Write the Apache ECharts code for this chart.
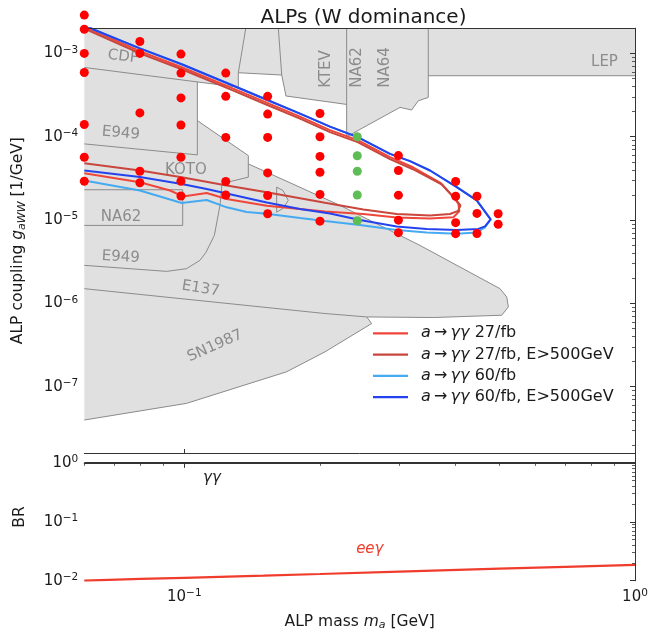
<!DOCTYPE html>
<html><head><meta charset="utf-8">
<script src="https://cdn.jsdelivr.net/npm/echarts@6/dist/echarts.min.js"></script>
<style>html,body{margin:0;padding:0;background:#fff}#c{width:650px;height:635px}</style>
</head><body><div id="c"></div>
<script>
// ---------------- data ----------------
const massLimits = [0.06, 1];
const couplingLimits = [1.6e-8, 2e-3];
const brLimits = [0.01, 1.45];

const couplingMajorTicks = [1e-7, 1e-6, 1e-5, 1e-4, 1e-3];
const brMajorTicks = [1e-2, 1e-1, 1];
const massMajorTicks = [0.1, 1];

const legendNames = ['a→γγ 27/fb', 'a→γγ 27/fb, E>500GeV', 'a→γγ 60/fb', 'a→γγ 60/fb, E>500GeV'];

// contour: 27/fb
const contour27 = [[0.0600,2.10e-3],[0.0797,1.06e-3],[0.0987,6.82e-4],[0.1285,3.77e-4],[0.1524,2.56e-4],[0.1806,1.74e-4],[0.2105,1.20e-4],[0.2425,9.11e-5],[0.2860,5.70e-5],[0.3216,4.30e-5],[0.3693,2.82e-5],[0.3954,1.88e-5],[0.4056,1.57e-5],[0.4077,1.28e-5],
  [0.3954,1.08e-5],[0.3509,1.04e-5],[0.2960,1.07e-5],[0.2496,1.18e-5],[0.2052,1.27e-5],[0.1524,1.48e-5],[0.1242,1.79e-5],[0.1121,2.11e-5],[0.0993,1.92e-5],[0.0930,2.26e-5],[0.0797,2.84e-5],[0.0600,3.65e-5]];
// contour: 27/fb, E>500GeV
const contour27E = [[0.0600,1.99e-3],[0.0797,1.00e-3],[0.0987,6.45e-4],[0.1285,3.57e-4],[0.1524,2.42e-4],[0.1806,1.65e-4],[0.2105,1.135e-4],[0.2425,8.62e-5],[0.2860,5.39e-5],[0.3216,4.07e-5],[0.3731,2.67e-5],[0.3986,1.81e-5],[0.4100,1.50e-5],
  [0.4051,1.29e-5],[0.3886,1.18e-5],[0.3509,1.135e-5],[0.2960,1.18e-5],[0.2496,1.34e-5],[0.2052,1.61e-5],[0.1524,2.16e-5],[0.1242,2.60e-5],[0.0987,3.27e-5],[0.0797,3.93e-5],[0.0600,4.80e-5]];
// contour: 60/fb
const contour60 = [[0.0600,2.20e-3],[0.0627,1.95e-3],[0.0797,1.15e-3],[0.0987,7.41e-4],[0.1285,4.09e-4],[0.1524,2.78e-4],[0.1806,1.89e-4],[0.2105,1.32e-4],[0.2425,9.89e-5],[0.2860,6.22e-5],[0.3168,5.10e-5],[0.3509,3.93e-5],[0.4023,2.48e-5],[0.4455,1.72e-5],[0.4783,1.02e-5],
  [0.4646,8.15e-6],[0.4455,7.10e-6],[0.4023,6.85e-6],[0.3450,7.10e-6],[0.2960,7.61e-6],[0.2454,8.73e-6],[0.2052,9.75e-6],[0.1806,1.06e-5],[0.1524,1.19e-5],[0.1376,1.25e-5],[0.1242,1.42e-5],[0.1121,1.74e-5],[0.0987,1.60e-5],[0.0930,1.76e-5],[0.0797,2.26e-5],[0.0600,2.98e-5]];
// contour: 60/fb, E>500GeV
const contour60E = [[0.0600,2.20e-3],[0.0627,1.95e-3],[0.0797,1.15e-3],[0.0987,7.41e-4],[0.1285,4.09e-4],[0.1524,2.78e-4],[0.1806,1.89e-4],[0.2105,1.32e-4],[0.2425,9.89e-5],[0.2860,6.22e-5],[0.3168,5.10e-5],[0.3509,3.93e-5],[0.4023,2.48e-5],[0.4455,1.72e-5],[0.4783,1.02e-5],
  [0.4646,8.38e-6],[0.4491,7.82e-6],[0.4023,7.61e-6],[0.3450,7.78e-6],[0.2960,8.38e-6],[0.2454,1.00e-5],[0.2105,1.20e-5],[0.1806,1.36e-5],[0.1524,1.62e-5],[0.1242,2.08e-5],[0.1121,2.36e-5],[0.0987,2.71e-5],[0.0797,3.28e-5],[0.0600,3.93e-5]];

// simulated benchmark points
const redPoints = [
  [0.06,2.88e-3],[0.06,1.95e-3],[0.06,1.0e-3],[0.06,5.9e-4],[0.06,1.40e-4],[0.06,5.66e-5],[0.06,2.92e-5],
  [0.0797,1.39e-3],[0.0797,1.0e-3],[0.0797,1.93e-4],[0.0797,3.85e-5],[0.0797,2.8e-5],
  [0.0983,9.8e-4],[0.0983,5.8e-4],[0.0983,2.92e-4],[0.0983,1.38e-4],[0.0983,5.66e-5],[0.0983,2.92e-5],[0.0983,1.94e-5],
  [0.1236,5.8e-4],[0.1236,3.05e-4],[0.1236,9.8e-5],[0.1236,2.9e-5],[0.1236,2.0e-5],
  [0.1531,3.05e-4],[0.1531,1.87e-4],[0.1531,9.8e-5],[0.1531,3.68e-5],[0.1531,1.97e-5],[0.1531,1.19e-5],
  [0.2,1.9e-4],[0.2,1.0e-4],[0.2,5.8e-5],[0.2,3.75e-5],[0.2,2.03e-5],[0.2,9.7e-6],
  [0.2986,5.94e-5],[0.2986,3.93e-5],[0.2986,1.99e-5],[0.2986,9.97e-6],[0.2986,7.05e-6],
  [0.40,2.9e-5],[0.40,1.93e-5],[0.40,9.3e-6],[0.40,6.86e-6],
  [0.446,1.93e-5],[0.446,1.2e-5],[0.446,6.9e-6],
  [0.497,1.19e-5],[0.497,8.9e-6]
];
const greenPoints = [[0.242,1.0e-4],[0.242,5.9e-5],[0.242,3.85e-5],[0.242,2.0e-5],[0.242,9.8e-6]];

// excluded regions (filled grey)
const excludedRegions = [
  [[0.06,2e-3],[0.1369,2e-3],[0.1318,5.86e-4],[0.1318,3.93e-4],[0.06,6.78e-4]],
  [[0.1369,2e-3],[0.1617,2e-3],[0.1645,5.50e-4],[0.1318,5.86e-4]],
  [[0.1617,2e-3],[0.1645,5.50e-4],[0.1681,3.08e-4],[0.2292,2.44e-4],[0.2292,2e-3]],
  [[0.2292,2e-3],[0.2292,1.00e-4],[0.3011,2.25e-4],[0.3195,2.09e-4],[0.3305,2.70e-4],[0.3478,2.96e-4],[0.3478,2e-3]],
  [[0.3478,2e-3],[0.3478,5.39e-4],[1,5.39e-4],[1,2e-3]],
  [[0.06,6.78e-4],[0.1069,4.55e-4],[0.1069,6.05e-5],[0.06,8.20e-5]],
  [[0.06,8.20e-5],[0.1069,6.05e-5],[0.1069,1.56e-4],[0.1387,5.94e-5],[0.1387,3.27e-5],[0.1221,2.77e-5],[0.06,2.4e-5]],
  [[0.06,3.0e-5],[0.1221,2.77e-5],[0.1387,4.72e-5],[0.2215,1.50e-5],[0.3334,4.96e-6],[0.5018,1.50e-6],[0.5194,1.19e-6],[0.5237,9.06e-7],[0.5061,7.20e-7],[0.3568,6.76e-7],[0.2539,6.87e-7],[0.2052,7.55e-7],[0.06,1.50e-6]],
  [[0.06,1.50e-6],[0.2052,7.55e-7],[0.2539,6.87e-7],[0.2605,5.73e-7],[0.2052,2.62e-7],[0.1687,1.51e-7],[0.1012,6.31e-8],[0.06,3.98e-8]]
];
// boundaries of the excluded regions
const regionEdges = [
  [[0.06,6.78e-4],[0.1318,3.93e-4]],
  [[0.1369,2e-3],[0.1318,5.86e-4],[0.1318,3.93e-4]],
  [[0.1318,5.86e-4],[0.1645,5.50e-4]],
  [[0.1617,2e-3],[0.1645,5.50e-4],[0.1681,3.08e-4],[0.2292,2.44e-4]],
  [[0.2292,2e-3],[0.2292,1.00e-4],[0.3011,2.25e-4],[0.3195,2.09e-4],[0.3305,2.70e-4],[0.3478,2.96e-4],[0.3478,2e-3]],
  [[0.3478,5.39e-4],[1,5.39e-4]],
  [[0.1069,4.55e-4],[0.1069,6.05e-5],[0.06,8.20e-5]],
  [[0.1069,1.56e-4],[0.1387,5.94e-5],[0.1387,3.27e-5],[0.1221,2.77e-5]],
  [[0.06,2.31e-5],[0.0992,2.31e-5],[0.0992,8.62e-6],[0.06,8.62e-6]],
  [[0.1213,2.74e-5],[0.1200,1.50e-5],[0.1166,6.54e-6],[0.1117,4.09e-6],[0.1083,3.28e-6],[0.1012,2.61e-6],[0.0914,2.42e-6],[0.06,2.86e-6]],
  [[0.1387,4.72e-5],[0.2215,1.50e-5],[0.3334,4.96e-6],[0.5018,1.50e-6],[0.5194,1.19e-6],[0.5237,9.06e-7],[0.5061,7.20e-7],[0.3568,6.76e-7],[0.2539,6.87e-7],[0.2052,7.55e-7],[0.06,1.50e-6]],
  [[0.2539,6.87e-7],[0.2605,5.73e-7],[0.2052,2.62e-7],[0.1687,1.51e-7],[0.1012,6.31e-8],[0.06,3.98e-8]],
  [[0.1603,2.48e-5],[0.1656,2.26e-5],[0.1701,1.72e-5],[0.1656,1.38e-5],[0.1603,1.24e-5],[0.1603,2.48e-5]]
];
const regionLabels = [
  {text:'CDF', m:0.0731, g:9.1e-4, rot:-7},
  {text:'E949', m:0.0723, g:1.10e-4, rot:-5},
  {text:'KOTO', m:0.1008, g:4.01e-5, rot:0},
  {text:'NA62', m:0.0724, g:1.07e-5, rot:0},
  {text:'E949', m:0.0723, g:3.59e-6, rot:-3},
  {text:'E137', m:0.1087, g:1.50e-6, rot:-9},
  {text:'SN1987', m:0.1170, g:3.08e-7, rot:24},
  {text:'KTEV', m:0.2061, g:6.49e-4, rot:90},
  {text:'NA62', m:0.2422, g:6.78e-4, rot:90},
  {text:'NA64', m:0.2789, g:6.78e-4, rot:90},
  {text:'LEP', m:0.8556, g:7.78e-4, rot:0}
];

// branching ratios
const brMass = [0.06, 0.08, 0.1, 0.15, 0.2, 0.3, 0.5, 0.7, 1.0];
const brGammaGamma = [0.99, 0.99, 0.99, 0.99, 0.99, 0.99, 0.99, 0.99, 0.99];
const brEEGamma = [0.0100, 0.0107, 0.0112, 0.0122, 0.0130, 0.0143, 0.0160, 0.0172, 0.0185];
const brLabels = [
  {text:'γγ', m:0.1152, br:0.551, color:'#222222'},
  {text:'eeγ', m:0.258, br:0.0345, color:'#f03c2c'}
];

// ---------------- chart ----------------
const FONT = '"DejaVu Sans", sans-serif';
const TXT = '#1a1a1a';
const SPINE = '#333333';
const L = Math.log10;
const lg = pts => pts.map(p => [L(p[0]), L(p[1])]);

function minorTicks(lo, hi) {
  const out = [];
  for (let e = Math.floor(L(lo)) - 1; e <= Math.ceil(L(hi)); e++) {
    for (let k = 2; k <= 9; k++) {
      const v = k * Math.pow(10, e);
      if (v > lo * 1.0001 && v < hi * 0.9999) out.push(L(v));
    }
  }
  return out;
}
const powLabel = v => {
  const n = Math.round(v);
  return '{b|10}{s|' + (n < 0 ? '−' : '') + Math.abs(n) + '}';
};
const powRich = {
  b: {fontSize: 15, lineHeight: 18, fontFamily: FONT, color: TXT},
  s: {fontSize: 10.5, lineHeight: 11, verticalAlign: 'top', fontFamily: FONT, color: TXT}
};
const nameRich = {
  i: {fontSize: 15.5, lineHeight: 18, fontStyle: 'italic', fontFamily: FONT, color: TXT},
  sub: {fontSize: 11, lineHeight: 10, verticalAlign: 'bottom', fontStyle: 'italic', fontFamily: FONT, color: TXT}
};
const xMin = L(massLimits[0]), xMax = L(massLimits[1]);
const gMin = L(couplingLimits[0]), gMax = L(couplingLimits[1]);
const bMin = L(brLimits[0]), bMax = L(brLimits[1]);

const noSplit = {show: false};
function lineOnlyAxis(grid, pos, min, max) {
  return {gridIndex: grid, type: 'value', position: pos, min, max, z: 10,
    axisLine: {show: true, lineStyle: {color: SPINE, width: 1}},
    axisTick: {show: false}, axisLabel: {show: false}, splitLine: noSplit};
}
function minorAxis(grid, pos, min, max, vals) {
  return {gridIndex: grid, type: 'value', position: pos, min, max, z: 10,
    axisLine: {show: false},
    axisTick: {show: true, length: 3, customValues: vals, lineStyle: {color: SPINE, width: 0.8}},
    axisLabel: {show: false}, splitLine: noSplit};
}

const xAxis = [
  {gridIndex: 0, type: 'value', position: 'bottom', min: xMin, max: xMax, z: 10,
    axisLine: {show: true, lineStyle: {color: SPINE, width: 1}},
    axisTick: {show: true, inside: true, length: 4, customValues: massMajorTicks.map(L), lineStyle: {color: SPINE}},
    axisLabel: {show: false}, splitLine: noSplit},
  lineOnlyAxis(0, 'top', xMin, xMax),
  {gridIndex: 1, type: 'value', position: 'bottom', min: xMin, max: xMax, z: 10,
    axisLine: {show: true, lineStyle: {color: SPINE, width: 1}},
    axisTick: {show: true, length: 5, customValues: massMajorTicks.map(L), lineStyle: {color: SPINE, width: 1}},
    axisLabel: {show: true, customValues: massMajorTicks.map(L), formatter: powLabel, margin: 7, rich: powRich},
    splitLine: noSplit,
    name: 'ALP mass {i|m}{sub|a} [GeV]', nameLocation: 'middle', nameGap: 32,
    nameTextStyle: {fontSize: 15.5, lineHeight: 18, fontFamily: FONT, color: TXT, rich: nameRich}},
  minorAxis(1, 'bottom', xMin, xMax, minorTicks(massLimits[0] * 0.999, massLimits[1])),
  lineOnlyAxis(1, 'top', xMin, xMax)
];
const yAxis = [
  {gridIndex: 0, type: 'value', position: 'left', min: gMin, max: gMax, z: 10,
    axisLine: {show: true, lineStyle: {color: SPINE, width: 1}},
    axisTick: {show: true, length: 5, customValues: couplingMajorTicks.map(L), lineStyle: {color: SPINE, width: 1}},
    axisLabel: {show: true, customValues: couplingMajorTicks.map(L), formatter: powLabel, margin: 6, rich: powRich},
    splitLine: noSplit,
    name: 'ALP coupling {i|g}{sub|aWW} [1/GeV]', nameLocation: 'middle', nameRotate: 90, nameGap: 57,
    nameTextStyle: {fontSize: 15.5, lineHeight: 18, fontFamily: FONT, color: TXT, rich: nameRich}},
  minorAxis(0, 'left', gMin, gMax, minorTicks(couplingLimits[0], couplingLimits[1])),
  lineOnlyAxis(0, 'right', gMin, gMax),
  {gridIndex: 1, type: 'value', position: 'left', min: bMin, max: bMax, z: 10,
    axisLine: {show: true, lineStyle: {color: SPINE, width: 1}},
    axisTick: {show: true, length: 5, customValues: brMajorTicks.map(L), lineStyle: {color: SPINE, width: 1}},
    axisLabel: {show: true, customValues: brMajorTicks.map(L), formatter: powLabel, margin: 6, rich: powRich},
    splitLine: noSplit,
    name: 'BR', nameLocation: 'middle', nameRotate: 90, nameGap: 55,
    nameTextStyle: {fontSize: 15.5, lineHeight: 18, fontFamily: FONT, color: TXT}},
  minorAxis(1, 'left', bMin, bMax, minorTicks(brLimits[0], brLimits[1])),
  lineOnlyAxis(1, 'right', bMin, bMax)
];

const series = [];
// grey excluded regions
series.push({
  type: 'custom', xAxisIndex: 0, yAxisIndex: 0, clip: true, silent: true, z: 1,
  data: excludedRegions.map(r => [L(r[0][0]), L(r[0][1])]),
  renderItem: (params, api) => ({
    type: 'polygon',
    shape: {points: excludedRegions[params.dataIndex].map(p => api.coord([L(p[0]), L(p[1])]))},
    style: {fill: '#e0e0e0', stroke: null}
  })
});
regionEdges.forEach(e => series.push({
  type: 'line', xAxisIndex: 0, yAxisIndex: 0, data: lg(e), symbol: 'none', silent: true, z: 2,
  lineStyle: {color: '#8a8a8a', width: 1}
}));
series.push({
  type: 'custom', xAxisIndex: 0, yAxisIndex: 0, silent: true, z: 2,
  data: regionLabels.map(d => [L(d.m), L(d.g)]),
  renderItem: (params, api) => {
    const d = regionLabels[params.dataIndex];
    const p = api.coord([L(d.m), L(d.g)]);
    return {type: 'text', x: p[0], y: p[1], rotation: d.rot * Math.PI / 180,
      style: {text: d.text, fill: '#8c8c8c', font: '15px ' + FONT, align: 'center', verticalAlign: 'middle'}};
  }
});
const contours = [
  {name: legendNames[0], data: contour27, color: '#f0463a'},
  {name: legendNames[1], data: contour27E, color: '#c8463c'},
  {name: legendNames[2], data: contour60, color: '#44aaf2'},
  {name: legendNames[3], data: contour60E, color: '#2443ee'}
];
contours.forEach((c, i) => series.push({
  type: 'line', name: c.name, xAxisIndex: 0, yAxisIndex: 0, data: lg(c.data), symbol: 'none',
  z: 3 + i * 0.1, color: c.color, itemStyle: {color: c.color}, lineStyle: {color: c.color, width: 2}, silent: true
}));
series.push({type: 'scatter', xAxisIndex: 0, yAxisIndex: 0, data: lg(redPoints), symbolSize: 9,
  itemStyle: {color: '#ff0000', opacity: 1}, clip: false, z: 20, silent: true});
series.push({type: 'scatter', xAxisIndex: 0, yAxisIndex: 0, data: lg(greenPoints), symbolSize: 9,
  itemStyle: {color: '#5fbd56', opacity: 1}, clip: false, z: 20, silent: true});
// BR panel
series.push({type: 'line', xAxisIndex: 2, yAxisIndex: 3, data: brMass.map((m, i) => [L(m), L(brGammaGamma[i])]),
  symbol: 'none', lineStyle: {color: '#333333', width: 2}, z: 3, silent: true});
series.push({type: 'line', xAxisIndex: 2, yAxisIndex: 3, data: brMass.map((m, i) => [L(m), L(brEEGamma[i])]),
  symbol: 'none', lineStyle: {color: '#f03c2c', width: 2.2}, z: 3, silent: true});
series.push({
  type: 'custom', xAxisIndex: 2, yAxisIndex: 3, silent: true, z: 4,
  data: brLabels.map(d => [L(d.m), L(d.br)]),
  renderItem: (params, api) => {
    const d = brLabels[params.dataIndex];
    const p = api.coord([L(d.m), L(d.br)]);
    return {type: 'text', x: p[0], y: p[1],
      style: {text: d.text, fill: d.color, font: 'italic 15px ' + FONT, align: 'center', verticalAlign: 'middle'}};
  }
});

const legendFmt = name => name.replace(/^a→γγ/, '{i|a}\u2009→\u2009{i|γγ}');

const option = {
  animation: false,
  backgroundColor: '#ffffff',
  title: {text: 'ALPs (W dominance)', left: 358.5, top: 3, textAlign: 'center',
    textStyle: {fontSize: 20, fontWeight: 'normal', color: TXT, fontFamily: FONT}},
  grid: [
    {left: 84.3, top: 28.3, width: 550.7, height: 424.7, outerBoundsMode: 'none'},
    {left: 84.3, top: 453.3, width: 550.7, height: 127.4, outerBoundsMode: 'none'}
  ],
  legend: {
    data: legendNames, orient: 'vertical', left: 373, top: 325.3, padding: 0,
    icon: 'rect', itemWidth: 35, itemHeight: 2.2, itemGap: 5.3,
    formatter: legendFmt, selectedMode: false,
    textStyle: {fontSize: 16, lineHeight: 16, color: TXT, fontFamily: FONT, padding: [0, 0, 0, 8],
      rich: {i: {fontStyle: 'italic', fontSize: 16, lineHeight: 16, fontFamily: FONT, color: TXT}}}
  },
  xAxis, yAxis, series
};
const chart = echarts.init(document.getElementById('c'), null, {renderer: 'canvas'});
chart.setOption(option);
</script></body></html>
